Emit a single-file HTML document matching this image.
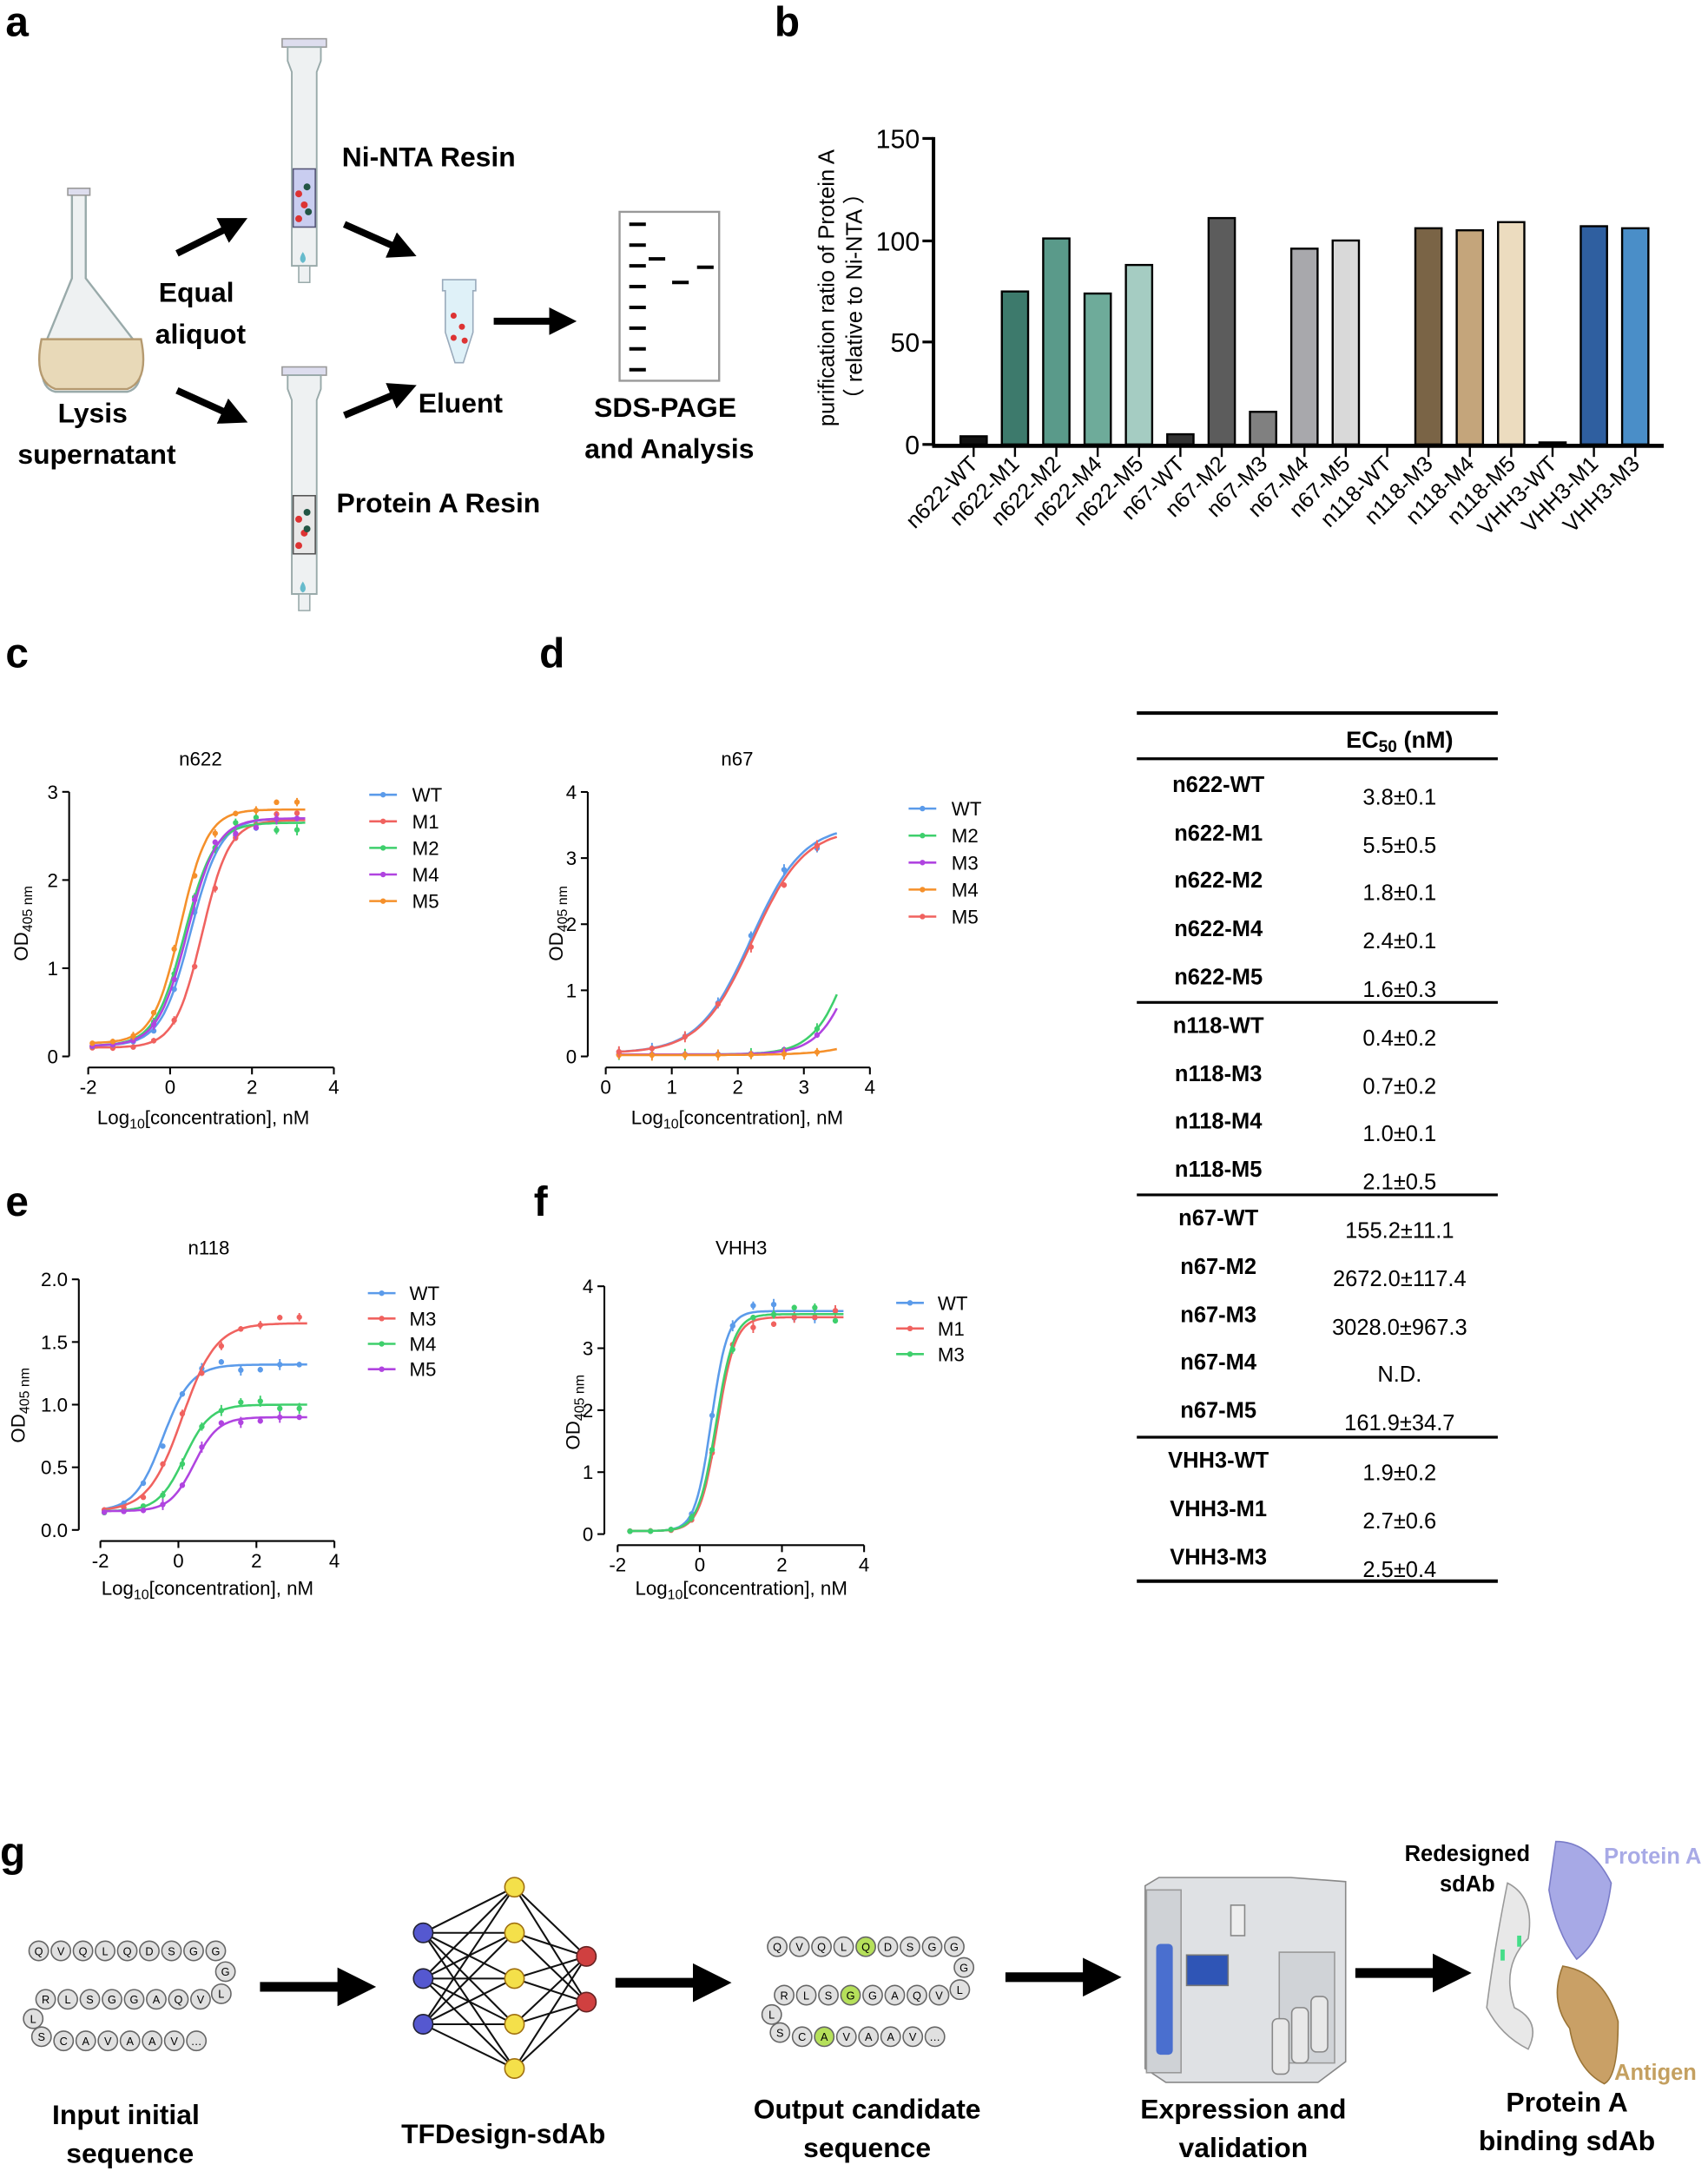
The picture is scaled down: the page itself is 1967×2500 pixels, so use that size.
<!DOCTYPE html>
<html><head><meta charset="utf-8"><style>
html,body{margin:0;padding:0;background:#fff;}
svg{display:block;}
text{font-family:"Liberation Sans",Arial,sans-serif;}
</style></head><body>
<svg id="s" width="1967" height="2500" viewBox="0 0 1235 1568" preserveAspectRatio="none" xmlns="http://www.w3.org/2000/svg">
<defs>
<marker id="ah" markerWidth="4" markerHeight="4" refX="2" refY="2" orient="auto"><path d="M0,0 L4,2 L0,4 z" fill="#000"/></marker>
</defs>
<g font-size="30" font-weight="bold">
<text x="4" y="26">a</text><text x="560" y="26">b</text>
<text x="4" y="482">c</text><text x="390" y="482">d</text>
<text x="4" y="878">e</text><text x="386" y="878">f</text>
<text x="0" y="1348">g</text>
</g>

<!-- Panel a -->
<g>
 <path d="M52,138 h10 v8 l0,0 v55 L100,250 q6,30 -8,33 H40 q-14,-3 -8,-33 L52,201z" fill="#eef1f2" stroke="#9aa" stroke-width="1.5"/>
 <path d="M30,245 H102 q6,30 -10,36 H40 q-16,-6 -10,-36z" fill="#e8d9b8" stroke="#b59a70" stroke-width="1.5"/>
 <rect x="49" y="136" width="16" height="5" fill="#dde" stroke="#999"/>
 <g id="col">
  <rect x="204" y="28" width="32" height="6" fill="#dde" stroke="#999"/>
  <path d="M208,34 h24 v10 l-3,8 v140 h-18 v-140 l-3,-8z" fill="#eef1f2" stroke="#9aa" stroke-width="1.2"/>
  <path d="M216,192 h8 v12 h-8z" fill="#eef1f2" stroke="#9aa"/>
 </g>
 <rect x="212" y="122" width="16" height="42" fill="#c9cdf0" stroke="#557"/>
 <circle cx="216" cy="140" r="2.5" fill="#d33"/><circle cx="220" cy="148" r="2.5" fill="#d33"/><circle cx="216" cy="158" r="2.5" fill="#d33"/><circle cx="222" cy="135" r="2.5" fill="#254"/><circle cx="223" cy="153" r="2.5" fill="#254"/>
 <path d="M219,182 q-4,6 0,8 q4,-2 0,-8z" fill="#6bc"/>
 <use href="#col" transform="translate(0,237)"/>
 <rect x="212" y="358" width="16" height="42" fill="#e8e8e8" stroke="#555"/>
 <circle cx="216" cy="375" r="2.5" fill="#d33"/><circle cx="220" cy="385" r="2.5" fill="#d33"/><circle cx="216" cy="394" r="2.5" fill="#d33"/><circle cx="222" cy="370" r="2.5" fill="#254"/><circle cx="222" cy="382" r="2.5" fill="#254"/>
 <path d="M219,420 q-4,6 0,8 q4,-2 0,-8z" fill="#6bc"/>
 <path d="M320,202 h24 v8 l-2,0 v30 l-7,22 h-6 l-7,-22 v-30 h-2z" fill="#dff1f8" stroke="#9ab"/>
 <circle cx="328" cy="228" r="2.2" fill="#d33"/><circle cx="334" cy="236" r="2.2" fill="#d33"/><circle cx="328" cy="244" r="2.2" fill="#d33"/><circle cx="336" cy="246" r="2.2" fill="#d33"/>
 <g stroke="#000" stroke-width="5" marker-end="url(#ah)">
  <line x1="128" y1="183" x2="170" y2="162"/>
  <line x1="128" y1="282" x2="170" y2="301"/>
  <line x1="249" y1="162" x2="292" y2="181"/>
  <line x1="249" y1="300" x2="292" y2="282"/>
  <line x1="357" y1="232" x2="407" y2="232"/>
 </g>
 <rect x="448" y="153" width="72" height="122" fill="#fff" stroke="#999" stroke-width="1.5"/>
 <g stroke="#000" stroke-width="2.5">
  <line x1="455" y1="162" x2="467" y2="162"/><line x1="455" y1="177" x2="467" y2="177"/><line x1="455" y1="192" x2="467" y2="192"/><line x1="455" y1="207" x2="467" y2="207"/><line x1="455" y1="222" x2="467" y2="222"/><line x1="455" y1="237" x2="467" y2="237"/><line x1="455" y1="252" x2="467" y2="252"/><line x1="455" y1="267" x2="467" y2="267"/>
  <line x1="469" y1="187" x2="481" y2="187"/><line x1="486" y1="204" x2="498" y2="204"/><line x1="504" y1="193" x2="516" y2="193"/>
 </g>
 <g font-size="20" font-weight="bold" text-anchor="middle">
  <text x="310" y="120">Ni-NTA Resin</text>
  <text x="317" y="370">Protein A Resin</text>
  <text x="142" y="218">Equal</text><text x="145" y="248">aliquot</text>
  <text x="67" y="305">Lysis</text><text x="70" y="335">supernatant</text>
  <text x="333" y="298">Eluent</text>
  <text x="481" y="301">SDS-PAGE</text><text x="484" y="331">and Analysis</text>
 </g>
</g>

<!-- Panel b -->
<g id="pb">
 <line x1="675" y1="99" x2="675" y2="322" stroke="#000" stroke-width="2.5"/>
 <line x1="674" y1="322" x2="1203" y2="322" stroke="#000" stroke-width="3"/>
 <g stroke="#000" stroke-width="2"><line x1="667" y1="100" x2="675" y2="100"/><line x1="667" y1="174" x2="675" y2="174"/><line x1="667" y1="247" x2="675" y2="247"/><line x1="667" y1="321" x2="675" y2="321"/></g>
 <g font-size="19" text-anchor="end"><text x="665" y="107">150</text><text x="665" y="181">100</text><text x="665" y="254">50</text><text x="665" y="328">0</text></g>
 <text transform="translate(603,208) rotate(-90)" font-size="16" text-anchor="middle">purification ratio of Protein A</text>
 <text transform="translate(623,214) rotate(-90)" font-size="16" text-anchor="middle">（ relative to Ni-NTA ）</text>
</g>

<!-- Table -->
<g>
 <line x1="822" y1="515" x2="1083" y2="515" stroke="#000" stroke-width="2.5"/>
 <line x1="822" y1="548" x2="1083" y2="548" stroke="#000" stroke-width="2"/>
 <line x1="822" y1="724" x2="1083" y2="724" stroke="#000" stroke-width="2"/>
 <line x1="822" y1="863" x2="1083" y2="863" stroke="#000" stroke-width="2"/>
 <line x1="822" y1="1038" x2="1083" y2="1038" stroke="#000" stroke-width="2"/>
 <line x1="822" y1="1142" x2="1083" y2="1142" stroke="#000" stroke-width="2.5"/>
 <text x="1012" y="540" font-size="17" font-weight="bold" text-anchor="middle">EC<tspan font-size="12" dy="3">50</tspan><tspan dy="-3"> (nM)</tspan></text>
 <g id="tab" font-size="16"></g>
</g>

<!-- panel g -->
<g>
 <g stroke="#000" stroke-width="7" marker-end="url(#ah)">
  <line x1="188" y1="1435" x2="258" y2="1435"/>
  <line x1="445" y1="1432" x2="515" y2="1432"/>
  <line x1="727" y1="1428" x2="797" y2="1428"/>
  <line x1="980" y1="1425" x2="1050" y2="1425"/>
 </g>
 <g id="net"></g>
 <g id="seq" font-size="8" text-anchor="middle"></g>
 <path d="M828,1362 l10,-6 h95 l40,3 v130 l-20,15 h-110 l-15,-10z" fill="#dfe1e4" stroke="#888"/>
 <rect x="829" y="1365" width="25" height="132" fill="#cfd2d6" stroke="#999"/>
 <rect x="836" y="1404" width="12" height="80" rx="3" fill="#4a6fcf"/>
 <rect x="858" y="1412" width="30" height="22" fill="#2f55b6" stroke="#777"/>
 <rect x="890" y="1376" width="10" height="22" fill="#eee" stroke="#888"/>
 <path d="M925,1410 h40 v80 h-40z" fill="#d0d3d7" stroke="#999"/>
 <rect x="920" y="1458" width="12" height="40" rx="4" fill="#e8e8e8" stroke="#888"/>
 <rect x="934" y="1450" width="12" height="40" rx="4" fill="#e8e8e8" stroke="#888"/>
 <rect x="948" y="1442" width="12" height="40" rx="4" fill="#e8e8e8" stroke="#888"/>
 <path d="M1090,1360 q20,10 15,40 q-20,20 -10,50 q20,10 10,30 q-20,-10 -30,-30 q5,-40 15,-90z" fill="#e8e8e8" stroke="#999"/>
 <path d="M1125,1330 q25,0 40,30 q-5,40 -25,55 q-15,-20 -20,-50z" fill="#a7a9e6" stroke="#7a7cc8"/>
 <path d="M1130,1420 q30,5 40,40 q0,40 -10,45 q-20,-10 -25,-40 q-15,-20 -5,-45z" fill="#c9a066" stroke="#9a7436"/>
 <rect x="1085" y="1408" width="3" height="8" fill="#4d8"/><rect x="1097" y="1398" width="3" height="8" fill="#4d8"/>
 <g font-size="16" font-weight="bold" text-anchor="middle">
  <text x="1061" y="1344">Redesigned</text><text x="1061" y="1366">sdAb</text>
  <text x="1195" y="1346" fill="#a8aae6">Protein A</text>
  <text x="1197" y="1502" fill="#c4a060">Antigen</text>
 </g>
 <g font-size="20" font-weight="bold" text-anchor="middle">
  <text x="91" y="1534">Input initial</text><text x="94" y="1562">sequence</text>
  <text x="364" y="1548">TFDesign-sdAb</text>
  <text x="627" y="1530">Output candidate</text><text x="627" y="1558">sequence</text>
  <text x="899" y="1530">Expression and</text><text x="899" y="1558">validation</text>
  <text x="1133" y="1525">Protein A</text><text x="1133" y="1553">binding sdAb</text>
 </g>
</g>
<g id="charts"></g>
</svg>
<script>
var NS="http://www.w3.org/2000/svg";
function el(p,t,a,txt){var e=document.createElementNS(NS,t);for(var k in a)e.setAttribute(k,a[k]);if(txt!==undefined)e.textContent=txt;p.appendChild(e);return e;}
var pb=document.getElementById('pb');
var names=["n622-WT","n622-M1","n622-M2","n622-M4","n622-M5","n67-WT","n67-M2","n67-M3","n67-M4","n67-M5","n118-WT","n118-M3","n118-M4","n118-M5","VHH3-WT","VHH3-M1","VHH3-M3"];
var vals=[4,75,101,74,88,5,111,16,96,100,0,106,105,109,1,107,106];
var cols=["#111","#3d7a6c","#5a9a8a","#6eab9a","#a5ccc2","#333","#5c5c5c","#808080","#a8a8ac","#d9d9d9","#fff","#7a6446","#c4a57b","#ecdcbf","#111","#2f5fa0","#4a8ec8"];
for(var i=0;i<17;i++){var cx=704+i*29.9,h=vals[i]*1.473;
 if(h>0)el(pb,'rect',{x:cx-9.5,y:321-h,width:19,height:h,fill:cols[i],stroke:'#000','stroke-width':1.5});
 el(pb,'line',{x1:cx,y1:322,x2:cx,y2:330,stroke:'#000','stroke-width':1.5});
 el(pb,'text',{transform:'translate('+(cx+4)+',336) rotate(-45)','font-size':16,'text-anchor':'end'},names[i]);}
var tab=document.getElementById('tab');
var rows=[["n622-WT","3.8±0.1",566],["n622-M1","5.5±0.5",601],["n622-M2","1.8±0.1",635],["n622-M4","2.4±0.1",670],["n622-M5","1.6±0.3",705],
["n118-WT","0.4±0.2",740],["n118-M3","0.7±0.2",775],["n118-M4","1.0±0.1",809],["n118-M5","2.1±0.5",844],
["n67-WT","155.2±11.1",879],["n67-M2","2672.0±117.4",914],["n67-M3","3028.0±967.3",949],["n67-M4","N.D.",983],["n67-M5","161.9±34.7",1018],
["VHH3-WT","1.9±0.2",1054],["VHH3-M1","2.7±0.6",1089],["VHH3-M3","2.5±0.4",1124]];
rows.forEach(function(r){el(tab,'text',{x:881,y:r[2]+6,'font-weight':'bold','text-anchor':'middle'},r[0]);el(tab,'text',{x:1012,y:r[2]+15,'text-anchor':'middle'},r[1]);});
var ch=document.getElementById('charts');
function sig(x,p){return p[0]+(p[1]-p[0])/(1+Math.pow(10,(p[2]-x)*p[3]));}
function chart(o){
 var g=el(ch,'g',{});
 el(g,'line',{x1:o.yx,y1:o.my(o.yt[o.yt.length-1]),x2:o.yx,y2:o.my(o.yt[0]),stroke:'#000','stroke-width':1.3});
 o.yt.forEach(function(v,i){var y=o.my(v);el(g,'line',{x1:o.yx-5,y1:y,x2:o.yx,y2:y,stroke:'#000','stroke-width':1.3});el(g,'text',{x:o.yx-8,y:y+5,'font-size':14,'text-anchor':'end'},o.yl[i]);});
 el(g,'line',{x1:o.mx(o.xt[0]),y1:o.xy,x2:o.mx(o.xt[o.xt.length-1]),y2:o.xy,stroke:'#000','stroke-width':1.3});
 o.xt.forEach(function(v){var x=o.mx(v);el(g,'line',{x1:x,y1:o.xy,x2:x,y2:o.xy+5,stroke:'#000','stroke-width':1.3});el(g,'text',{x:x,y:o.xy+19,'font-size':14,'text-anchor':'middle'},String(v));});
 el(g,'text',{x:o.tx,y:o.ty,'font-size':14,'text-anchor':'middle'},o.title);
 var t=el(g,'text',{x:o.lx,y:o.ly,'font-size':14,'text-anchor':'middle'});
 t.innerHTML='Log<tspan font-size="10" baseline-shift="-3">10</tspan>[concentration],  nM';
 var t2=el(g,'text',{transform:'translate('+o.ox+','+o.oy+') rotate(-90)','font-size':14,'text-anchor':'middle'});
 t2.innerHTML='OD<tspan font-size="10" baseline-shift="-3">405 nm</tspan>';
 o.ser.forEach(function(sr,k){
  var d='';for(var x=o.r[0];x<=o.r[1]+1e-6;x+=0.05){d+=(d?'L':'M')+o.mx(x).toFixed(1)+','+o.my(sig(x,sr.p)).toFixed(1);}
  el(g,'path',{d:d,fill:'none',stroke:sr.c,'stroke-width':1.6});
  for(var x=o.r[0];x<=o.r[1]+1e-6;x+=o.step){var v=sig(x,sr.p);var X=o.mx(x),Y=o.my(v*(1+((k*7+Math.round(x*13))%3-1)*0.03));var e=2+((k+Math.round(x*3))%3);
   el(g,'line',{x1:X,y1:Y-e,x2:X,y2:Y+e,stroke:sr.c,'stroke-width':1.2});el(g,'circle',{cx:X,cy:Y,r:2,fill:sr.c});}
  var ly=o.lg[1]+k*o.lg[3];
  el(g,'line',{x1:o.lg[0],y1:ly,x2:o.lg[0]+20,y2:ly,stroke:sr.c,'stroke-width':1.6});
  el(g,'circle',{cx:o.lg[0]+10,cy:ly,r:2,fill:sr.c});
  el(g,'text',{x:o.lg[2],y:ly+5,'font-size':14},sr.n);
 });
}
var B='#5b9bea',R='#f0625f',G='#3ecf6c',P='#b044e0',O='#f5902a';
chart({mx:function(x){return 123+x*29.6},my:function(y){return 763-y*63.7},yx:50,xy:771,yt:[0,1,2,3],yl:['0','1','2','3'],xt:[-2,0,2,4],
 title:'n622',tx:145,ty:553,lx:147,ly:812,ox:20,oy:667,r:[-1.9,3.3],step:0.5,lg:[267,574,298,19.2],
 ser:[{n:'WT',c:B,p:[0.12,2.7,0.5,1.2]},{n:'M1',c:R,p:[0.1,2.68,0.78,1.3]},{n:'M2',c:G,p:[0.12,2.65,0.35,1.2]},{n:'M4',c:P,p:[0.12,2.7,0.42,1.2]},{n:'M5',c:O,p:[0.15,2.8,0.25,1.3]}]});
chart({mx:function(x){return 438+x*47.75},my:function(y){return 763-y*47.75},yx:425,xy:771,yt:[0,1,2,3,4],yl:['0','1','2','3','4'],xt:[0,1,2,3,4],
 title:'n67',tx:533,ty:553,lx:533,ly:812,ox:407,oy:667,r:[0.2,3.5],step:0.5,lg:[657,584,688,19.5],
 ser:[{n:'WT',c:B,p:[0.05,3.5,2.2,1.1]},{n:'M2',c:G,p:[0.03,3.5,3.8,1.5]},{n:'M3',c:P,p:[0.03,3.5,3.9,1.5]},{n:'M4',c:O,p:[0.02,3,5,1]},{n:'M5',c:R,p:[0.05,3.45,2.22,1.1]}]});
chart({mx:function(x){return 129+x*28.2},my:function(y){return 1105-y*90.5},yx:57,xy:1113,yt:[0,0.5,1,1.5,2],yl:['0.0','0.5','1.0','1.5','2.0'],xt:[-2,0,2,4],
 title:'n118',tx:151,ty:906,lx:150,ly:1152,ox:18,oy:1015,r:[-1.9,3.3],step:0.5,lg:[266,934,296,18.3],
 ser:[{n:'WT',c:B,p:[0.15,1.32,-0.4,1.2]},{n:'M3',c:R,p:[0.15,1.65,0.1,1.0]},{n:'M4',c:G,p:[0.15,1.0,0.15,1.3]},{n:'M5',c:P,p:[0.15,0.9,0.4,1.4]}]});
chart({mx:function(x){return 506+x*29.7},my:function(y){return 1108-y*44.75},yx:437,xy:1116,yt:[0,1,2,3,4],yl:['0','1','2','3','4'],xt:[-2,0,2,4],
 title:'VHH3',tx:536,ty:906,lx:536,ly:1152,ox:419,oy:1020,r:[-1.7,3.5],step:0.5,lg:[648,941,678,18.5],
 ser:[{n:'WT',c:B,p:[0.05,3.6,0.28,2.2]},{n:'M1',c:R,p:[0.05,3.5,0.43,2]},{n:'M3',c:G,p:[0.05,3.55,0.4,2.0]}]});
var net=document.getElementById('net');
var L1=[1396,1429,1462],L2=[1363,1396,1429,1462,1494],L3=[1413,1446];
L1.forEach(function(a){L2.forEach(function(b){el(net,'line',{x1:306,y1:a,x2:372,y2:b,stroke:'#111','stroke-width':1.3});});});
L2.forEach(function(a){L3.forEach(function(b){el(net,'line',{x1:372,y1:a,x2:424,y2:b,stroke:'#111','stroke-width':1.3});});});
L1.forEach(function(y){el(net,'circle',{cx:306,cy:y,r:7,fill:'#5558d0',stroke:'#223'});});
L2.forEach(function(y){el(net,'circle',{cx:372,cy:y,r:7,fill:'#f4e04a',stroke:'#a07010'});});
L3.forEach(function(y){el(net,'circle',{cx:424,cy:y,r:7,fill:'#d04040',stroke:'#622'});});
var seq=document.getElementById('seq');
function res(x,y,c,hl){el(seq,'circle',{cx:x,cy:y,r:7,fill:hl?'#b5e05a':'#e0e0e0',stroke:'#666'});el(seq,'text',{x:x,y:y+3},c);}
function drawSeq(ox,oy,hl){
 "QVQLQDSGG".split('').forEach(function(c,i){res(ox+28+i*16,oy+1409,c,hl&&i==4);});
 res(ox+163,oy+1424,'G');res(ox+160,oy+1440,'L');
 "RLSGGAQV".split('').forEach(function(c,i){res(ox+33+i*16,oy+1444,c,hl&&i==3);});
 res(ox+24,oy+1458,'L');res(ox+30,oy+1471,'S');
 "CAVAAV…".split('').forEach(function(c,i){res(ox+46+i*16,oy+1474,c,hl&&i==1);});
}
drawSeq(0,0,false);drawSeq(534,-3,true);
</script>
</body></html>
